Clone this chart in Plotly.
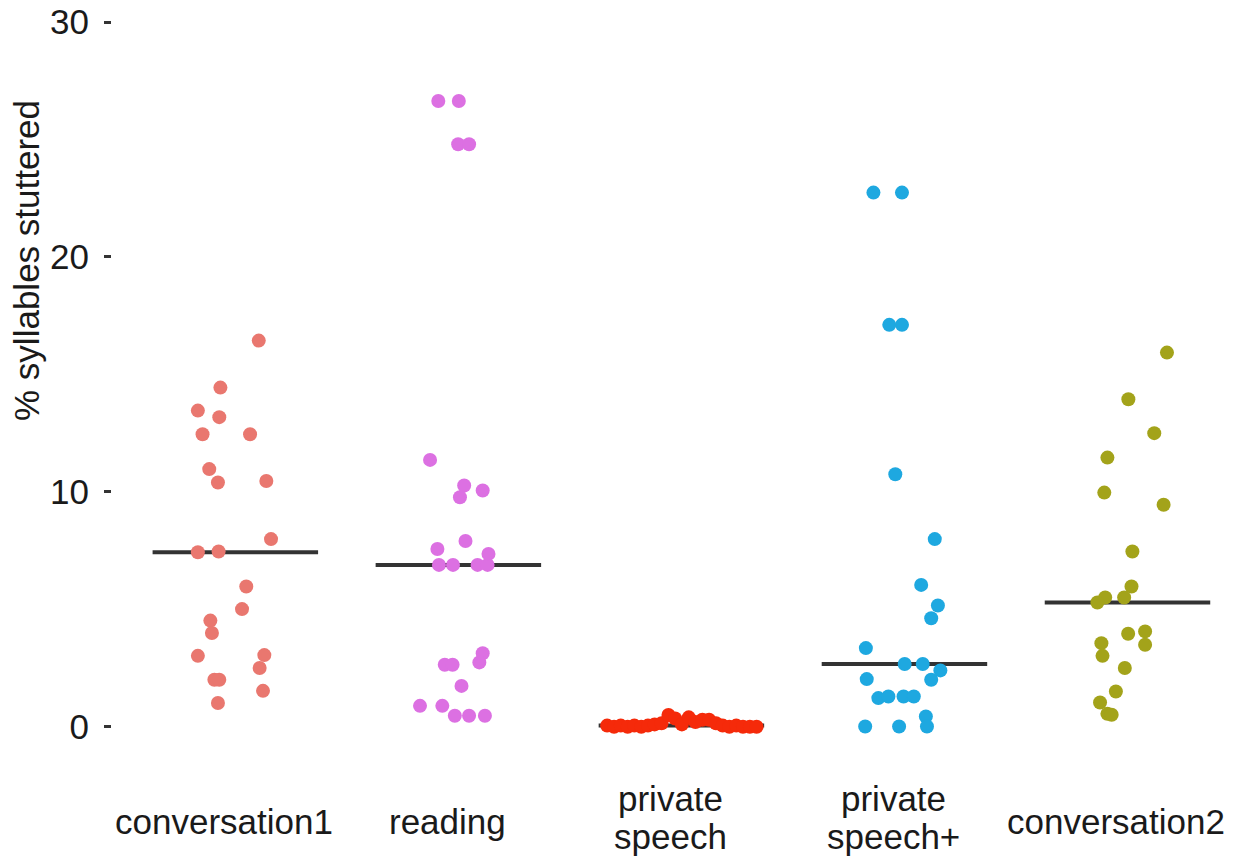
import numpy as np
import plotly.graph_objects as go

categories = ["conversation1", "reading", "private<br>speech", "private<br>speech+", "conversation2"]
colors = ["#E9776F", "#DC70E2", "#F52A0A", "#1EA8E0", "#A3A31A"]

conv1_vals = [16.44, 14.44, 13.46, 13.18, 12.45, 12.45, 10.97, 10.40, 10.46, 7.99, 7.43, 7.46,
              5.97, 5.01, 4.52, 3.99, 3.02, 3.05, 2.50, 2.00, 2.00, 1.53, 1.01]
conv1_jit = [0.105, -0.067, -0.168, -0.072, -0.147, 0.066, -0.117, -0.078, 0.139, 0.160, -0.168, -0.075,
             0.049, 0.030, -0.112, -0.105, -0.168, 0.130, 0.109, -0.094, -0.072, 0.124, -0.078]

reading_vals = [26.64, 26.64, 24.80, 24.80, 11.36, 10.27, 9.77, 10.06, 7.91, 7.57, 6.89, 6.89, 6.89,
                6.89, 7.36, 3.13, 2.74, 2.64, 2.64, 1.74, 0.89, 0.89, 0.47, 0.47, 0.47]
reading_jit = [-0.090, 0.002, -0.001, 0.048, -0.127, 0.026, 0.007, 0.109, 0.032, -0.094, -0.087, -0.024, 0.086,
               0.131, 0.135, 0.109, 0.094, -0.061, -0.026, 0.014, -0.172, -0.072, -0.016, 0.048, 0.119]

private_vals = [0.05, 0.0, 0.05, 0.0, 0.05, 0.0, 0.05, 0.1, 0.15, 0.5, 0.35, 0.1, 0.4, 0.2, 0.3, 0.3,
                0.15, 0.05, 0.0, 0.05, 0.0, 0.0, 0.0]
private_jit = [-0.333, -0.302, -0.272, -0.241, -0.211, -0.180, -0.150, -0.120, -0.089, -0.058, -0.028, 0.002,
               0.033, 0.063, 0.094, 0.124, 0.155, 0.185, 0.215, 0.246, 0.276, 0.307, 0.337]

privplus_vals = [22.74, 22.74, 17.11, 17.11, 10.75, 7.99, 6.04, 5.16, 4.62, 3.35, 2.67, 2.67, 2.40, 2.00,
                 2.03, 1.22, 1.29, 1.29, 1.29, 0.44, 0.01, 0.01, 0.01]
privplus_jit = [-0.139, -0.011, -0.068, -0.011, -0.041, 0.136, 0.075, 0.150, 0.120, -0.173, 0.001, 0.082, 0.161,
                0.120, -0.169, -0.117, -0.072, -0.004, 0.042, 0.096, -0.176, -0.024, 0.101]

conv2_vals = [15.93, 13.94, 12.50, 11.46, 9.97, 9.45, 7.46, 5.97, 5.50, 5.29, 5.50, 3.96, 4.06, 3.49, 3.56,
              3.02, 2.50, 1.50, 1.03, 0.55, 0.51]
conv2_jit = [0.177, 0.004, 0.120, -0.090, -0.104, 0.162, 0.022, 0.018, -0.100, -0.135, -0.015, 0.003, 0.079,
             0.079, -0.117, -0.112, -0.012, -0.052, -0.123, -0.090, -0.071]

y_ticks = [0, 10, 20, 30]

groups = [(conv1_vals, conv1_jit), (reading_vals, reading_jit), (private_vals, private_jit),
          (privplus_vals, privplus_jit), (conv2_vals, conv2_jit)]

FONT = "Liberation Sans, Arial, Helvetica, sans-serif"
FS = 35
half = 0.371

fig = go.Figure()
# median lines first (under points)
for i, (vals, jit) in enumerate(groups):
    med = float(np.median(vals))
    fig.add_trace(go.Scatter(x=[i - half, i + half], y=[med, med], mode="lines",
                             line=dict(color="#333333", width=4), hoverinfo="skip", showlegend=False))
for i, (vals, jit) in enumerate(groups):
    fig.add_trace(go.Scatter(x=[i + j for j in jit], y=vals, mode="markers",
                             marker=dict(color=colors[i], size=14, line=dict(width=0)),
                             name=categories[i].replace("<br>", " "), showlegend=False))

# category labels, each line placed separately so single-line labels are vertically centred
for i, c in enumerate(categories):
    lines = c.split("<br>")
    n = len(lines)
    base = 59 if n == 1 else 55
    for k, ln in enumerate(lines):
        fig.add_annotation(x=i - 0.05, xref="x", y=0, yref="paper", text=ln, showarrow=False,
                           xanchor="center", yanchor="middle",
                           yshift=-(base + (k - (n - 1) / 2) * 38),
                           font=dict(family=FONT, size=FS, color="#1a1a1a"))

fig.add_annotation(x=0, xref="paper", xshift=-85, y=19.83, yref="y", text="% syllables stuttered",
                   textangle=-90, showarrow=False, xanchor="center", yanchor="middle",
                   font=dict(family=FONT, size=FS, color="#1a1a1a"))

fig.update_xaxes(range=[-0.553, 4.5], showticklabels=False, showgrid=False, zeroline=False,
                 showline=False, ticks="")
fig.update_yaxes(range=[-1.5, 30.94], tickvals=y_ticks, ticktext=[str(v) for v in y_ticks],
                 showgrid=False, zeroline=False, showline=False, ticks="outside", ticklen=7,
                 tickwidth=2.5, tickcolor="#333333", ticklabelstandoff=8,
                 tickfont=dict(family=FONT, size=FS, color="#1a1a1a"))

fig.update_layout(width=1239, height=856, paper_bgcolor="white", plot_bgcolor="white",
                  margin=dict(l=112, r=0, t=0, b=94), showlegend=False)

fig.write_html("out.html", config={"displayModeBar": False},
               post_script="document.body.style.margin='0';document.body.style.overflow='hidden';")
